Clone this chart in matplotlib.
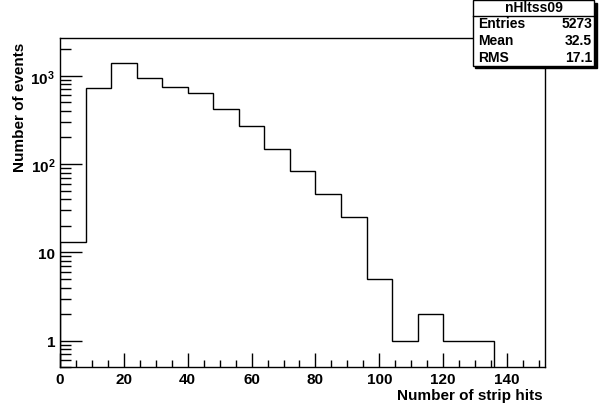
import matplotlib
matplotlib.use('Agg')
import matplotlib.pyplot as plt
from matplotlib.ticker import FixedLocator, FixedFormatter, MultipleLocator
from matplotlib.patches import Rectangle
import numpy as np

# histogram contents (bins of width 8 starting at 0)
bin_edges = [0, 8, 16, 24, 32, 40, 48, 56, 64, 72, 80, 88, 96, 104, 112, 120, 128, 136]
counts = [13, 721, 1391, 935, 739, 632, 417, 268, 149, 83, 46, 25, 5, 1, 2, 1, 1]

# stats box
hist_name = 'nHltss09'
stat_names = ['Entries', 'Mean', 'RMS']
stat_values = ['5273', '32.5', '17.1']

y_ticks = [1, 10, 100, 1000]
y_tick_labels = ['1', '10', '$\\mathbf{10^{2}}$', '$\\mathbf{10^{3}}$']

plt.rcParams['font.family'] = ['Liberation Sans', 'DejaVu Sans']
plt.rcParams['mathtext.fontset'] = 'custom'
plt.rcParams['mathtext.bf'] = 'Liberation Sans:bold'
plt.rcParams['mathtext.rm'] = 'Liberation Sans:bold'

fig = plt.figure(figsize=(6.06, 4.10), dpi=100)
ax = fig.add_axes([0.099, 0.1017, 0.8009, 0.8024])

ax.stairs(counts, bin_edges, baseline=0.5, color='black', lw=1.0)

ax.set_yscale('log')
ax.set_xlim(0, 152)
ax.set_ylim(0.5, 2650)

# x ticks inside, ROOT style
ax.xaxis.set_major_locator(MultipleLocator(20))
ax.xaxis.set_minor_locator(MultipleLocator(5))
ax.tick_params(axis='x', which='major', direction='in', length=10, width=1, top=False, pad=3.5)
ax.tick_params(axis='x', which='minor', direction='in', length=5, width=1, top=False)

# y ticks, log
ax.yaxis.set_major_locator(FixedLocator(y_ticks))
ax.yaxis.set_major_formatter(FixedFormatter(y_tick_labels))
minors = []
for dec in [0.1, 1, 10, 100, 1000]:
    for k in range(2, 10):
        v = dec * k
        if 0.5 <= v <= 2650:
            minors.append(v)
ax.yaxis.set_minor_locator(FixedLocator(minors))
ax.yaxis.set_minor_formatter(FixedFormatter([''] * len(minors)))
ax.tick_params(axis='y', which='major', direction='in', length=16, width=1, right=False, pad=3.5)
ax.tick_params(axis='y', which='minor', direction='in', length=8, width=1, right=False)

for lbl in ax.get_xticklabels() + ax.get_yticklabels():
    lbl.set_fontsize(11)
    lbl.set_fontweight('bold')

for sp in ax.spines.values():
    sp.set_linewidth(1.0)

# axis titles
fig.text(543 / 606, 1 - 396 / 410, 'Number of strip hits', ha='right', va='center',
         fontsize=11, fontweight='bold')
fig.text(20 / 606, 1 - 43 / 410, 'Number of events', ha='center', va='top',
         rotation=90, fontsize=11, fontweight='bold')

# stats box with shadow
bx0, bx1 = 472.7 / 606, 594.3 / 606
by0, by1 = 1 - 66.7 / 410, 1 - 1 / 410
sh = 2.5
fig.patches.append(Rectangle((bx0 + sh / 606, by0 - sh / 410), bx1 - bx0, by1 - by0,
                             transform=fig.transFigure, facecolor='black', edgecolor='black', lw=1))
fig.patches.append(Rectangle((bx0, by0), bx1 - bx0, by1 - by0,
                             transform=fig.transFigure, facecolor='white', edgecolor='black', lw=1))
fig.add_artist(plt.Line2D([bx0, bx1], [1 - 17.3 / 410] * 2, transform=fig.transFigure,
                          color='black', lw=1))
fig.text((bx0 + bx1) / 2, 1 - 8.5 / 410, hist_name, ha='center', va='center',
         fontsize=10, fontweight='bold')
row_y = [24, 41, 58]
for name, val, yy in zip(stat_names, stat_values, row_y):
    fig.text(478.5 / 606, 1 - yy / 410, name, ha='left', va='center', fontsize=10, fontweight='bold')
    fig.text(592 / 606, 1 - yy / 410, val, ha='right', va='center', fontsize=10, fontweight='bold')

fig.savefig('out.png', dpi=100)
